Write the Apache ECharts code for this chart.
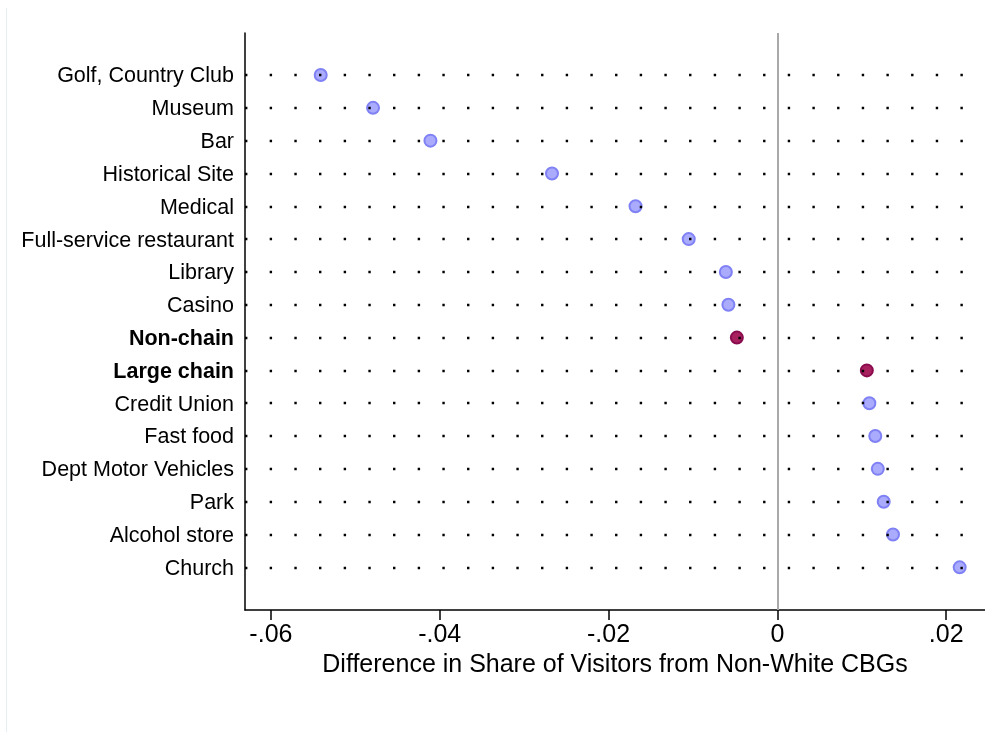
<!DOCTYPE html>
<html lang="en">
<head>
  <meta charset="UTF-8">
  <title>Difference in Share of Visitors</title>
  <script src="https://cdn.jsdelivr.net/npm/echarts@6/dist/echarts.min.js"></script>
  <style>
    html, body { margin: 0; padding: 0; background: #fff; }
  </style>
</head>
<body>
  <div id="chart" style="width:985px;height:732px;"></div>

  <script>
    // rows top to bottom
    var categories = [
      'Golf, Country Club', 'Museum', 'Bar', 'Historical Site', 'Medical',
      'Full-service restaurant', 'Library', 'Casino', 'Non-chain', 'Large chain',
      'Credit Union', 'Fast food', 'Dept Motor Vehicles', 'Park', 'Alcohol store', 'Church'
    ];
    var values = [
      -0.0541, -0.0479, -0.0411, -0.0267, -0.0168,
      -0.0105, -0.0061, -0.0058, -0.0048, 0.0106,
      0.0109, 0.0116, 0.0119, 0.0126, 0.0137, 0.0216
    ];
    // rows shown in bold / dark marker
    var chainRows = ['Non-chain', 'Large chain'];
    var xTicks = [-0.06, -0.04, -0.02, 0, 0.02];

    var rowIdx = categories.map(function (c, i) { return i; });

    var pts = [];
    var chainPts = [];
    categories.forEach(function (c, i) {
      if (chainRows.indexOf(c) >= 0) chainPts.push([values[i], i]);
      else pts.push([values[i], i]);
    });

    var xMin = -0.06307, xMax = 0.0246, gridEnd = 0.0228;

    var gridLines = rowIdx.map(function (i) {
      return [{coord: [xMin, i]}, {coord: [gridEnd, i]}];
    });

    var myChart = echarts.init(document.getElementById('chart'));
    var option = {
      animation: false,
      textStyle: {fontFamily: 'Liberation Sans, Arial, sans-serif'},
      grid: {left: 245, right: 0, top: 33, bottom: 122},
      graphic: [{
        type: 'line',
        shape: {x1: 6.5, y1: 8, x2: 6.5, y2: 732},
        style: {stroke: '#e6eef1', lineWidth: 1}
      }],
      xAxis: {
        type: 'value',
        min: xMin,
        max: xMax,
        splitLine: {show: false},
        axisLine: {show: true, onZero: false, lineStyle: {color: '#000', width: 1.5}},
        axisTick: {show: true, inside: false, length: 10, customValues: xTicks,
          lineStyle: {color: '#000', width: 1.5}},
        axisLabel: {
          customValues: xTicks,
          margin: 13,
          fontSize: 25,
          color: '#000',
          formatter: function (v) {
            if (Math.abs(v) < 1e-9) return '0';
            return (v < 0 ? '-' : '') + Math.abs(v).toFixed(2).replace(/^0/, '');
          }
        },
        name: 'Difference in Share of Visitors from Non-White CBGs',
        nameLocation: 'middle',
        nameGap: 39,
        nameTextStyle: {fontSize: 25, color: '#000'}
      },
      yAxis: {
        type: 'value',
        inverse: true,
        min: -1.28,
        max: 16.3,
        splitLine: {show: false},
        axisLine: {show: true, onZero: false, lineStyle: {color: '#000', width: 1.5}},
        axisTick: {show: false},
        axisLabel: {
          customValues: rowIdx,
          margin: 11,
          fontSize: 21.5,
          color: '#000',
          verticalAlign: 'middle',
          padding: [3, 0, 0, 0],
          formatter: function (v) {
            var name = categories[Math.round(v)];
            if (chainRows.indexOf(name) >= 0) return '{b|' + name + '}';
            return name;
          },
          rich: {b: {fontSize: 21.5, fontWeight: 'bold', color: '#000'}}
        }
      },
      series: [
        {
          type: 'scatter',
          z: 2,
          symbol: 'circle',
          symbolSize: 12,
          itemStyle: {color: '#aaabfc', borderColor: '#7f81f4', borderWidth: 2, opacity: 1},
          data: pts,
          markLine: {
            silent: true,
            symbol: 'none',
            label: {show: false},
            lineStyle: {color: '#a9a9a9', width: 2, type: 'solid'},
            data: [{xAxis: 0}]
          }
        },
        {
          type: 'scatter',
          z: 2,
          symbol: 'circle',
          symbolSize: 12,
          itemStyle: {color: '#a8205e', borderColor: '#8a0c4f', borderWidth: 2, opacity: 1},
          data: chainPts
        },
        {
          // dotted row guides, drawn over the markers
          type: 'scatter',
          z: 5,
          data: [],
          markLine: {
            silent: true,
            symbol: 'none',
            label: {show: false},
            lineStyle: {color: '#000', width: 2.4, type: [2.4, 22.27], cap: 'butt', opacity: 1},
            data: gridLines
          }
        }
      ]
    };
    myChart.setOption(option);
  </script>
</body>
</html>
